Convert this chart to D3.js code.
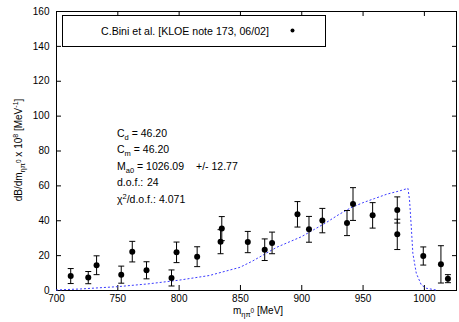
<!DOCTYPE html>
<html>
<head>
<meta charset="utf-8">
<script src="https://cdn.jsdelivr.net/npm/d3@7"></script>
<style>
  body { margin: 0; background: #fff; }
  svg text { font-family: "Liberation Sans", Arial, Helvetica, sans-serif; fill: #000; }
</style>
</head>
<body>
<script>
// measured points (KLOE note 173)
const massPts = [712, 726.3, 733.1, 753.2, 762.2, 773.8, 794.2, 798.3, 815.1, 834.2, 835.2, 856.4, 870.2,
  876.2, 896.9, 906.3, 917.2, 937.3, 942.2, 958.2, 978.3, 978.3, 999.5, 1013.9, 1019.6];
const rateVals = [8.0, 7.1, 14.2, 8.8, 22.0, 11.3, 6.9, 21.6, 19.1, 27.7, 35.2, 27.5, 23.1,
  27.0, 43.4, 34.8, 39.8, 38.4, 49.3, 42.8, 45.9, 31.9, 19.5, 14.7, 6.5];
const rateErrs = [4.3, 3.5, 5.4, 4.9, 5.9, 4.9, 4.6, 5.9, 5.7, 6.9, 6.9, 6.1, 6.2,
  6.2, 7.3, 7.4, 7.0, 7.2, 9.4, 7.3, 7.5, 8.7, 5.2, 10.7, 2.3];

// fit curve
const curveMass = [700, 720, 750, 775, 800, 825, 850, 860, 870, 880, 890, 900, 910, 920, 930, 940,
  950, 960, 970, 980, 987, 988.3, 989.7, 991, 993.8, 997.9, 1002, 1010];
const curveVals = [0, 0.6, 1.9, 3.5, 5.6, 8.3, 13, 16.5, 20.5, 24.5, 27.5, 30.5, 34.5, 38.5, 43, 47,
  50, 52.5, 55, 56.8, 58.3, 51.6, 36.3, 21.0, 9.6, 2.9, 1.0, 0];

const xTicks = [700, 750, 800, 850, 900, 950, 1000];
const yTicks = [0, 20, 40, 60, 80, 100, 120, 140, 160];

const legendLabel = "C.Bini et al. [KLOE note 173, 06/02]";

const W = 459, H = 322;
const m = { left: 56, right: 2, top: 11, bottom: 32 };

const svg = d3.select("body").append("svg")
  .attr("width", W)
  .attr("height", H);

const x = d3.scaleLinear().domain([700, 1027]).range([m.left, W - m.right]);
const y = d3.scaleLinear().domain([0, 160]).range([H - m.bottom, m.top]);

// axes, ticks point inward like gnuplot
svg.append("g")
  .attr("transform", `translate(0,${y(0)})`)
  .call(d3.axisBottom(x).tickValues(xTicks).tickSize(-5).tickPadding(5).tickFormat(d3.format("d")))
  .call(g => g.select(".domain").remove());

svg.append("g")
  .attr("transform", `translate(${x(700)},0)`)
  .call(d3.axisLeft(y).tickValues(yTicks).tickSize(-5).tickPadding(6.5))
  .call(g => g.select(".domain").remove());

svg.append("g")
  .attr("transform", `translate(0,${y(160)})`)
  .call(d3.axisTop(x).tickValues(xTicks).tickSize(-5).tickFormat(""))
  .call(g => g.select(".domain").remove());

svg.append("g")
  .attr("transform", `translate(${x.range()[1]},0)`)
  .call(d3.axisRight(y).tickValues(yTicks).tickSize(-5).tickFormat(""))
  .call(g => g.select(".domain").remove());

svg.selectAll(".tick text").style("font-size", "10px");
svg.selectAll(".tick line").attr("stroke", "#000");

// frame
svg.append("rect")
  .attr("x", x.range()[0] + 0.5)
  .attr("y", y(160) + 0.5)
  .attr("width", x.range()[1] - x.range()[0] - 1)
  .attr("height", y(0) - y(160))
  .attr("fill", "none")
  .attr("stroke", "#000");

// helper: text with sub/superscripts, parts = [text, shift(px), size]
function richText(sel, parts, base) {
  let prev = 0;
  parts.forEach(p => {
    const shift = p[1] || 0;
    sel.append("tspan")
      .attr("dy", shift - prev)
      .style("font-size", (p[2] || base) + "px")
      .text(p[0]);
    prev = shift;
  });
}

// fit curve
const line = d3.line()
  .x((d, i) => x(curveMass[i]))
  .y(d => y(d));

svg.append("path")
  .datum(curveVals)
  .attr("d", line)
  .attr("fill", "none")
  .attr("stroke", "#3a3aff")
  .attr("stroke-width", 1)
  .attr("stroke-dasharray", "2,2");

// error bars
const pts = massPts.map((mv, i) => ({ m: mv, v: rateVals[i], e: rateErrs[i] }));

const eb = svg.append("g").attr("stroke", "#000").attr("stroke-width", 1);
eb.selectAll("line.bar")
  .data(pts)
  .enter()
  .append("line")
  .attr("class", "bar")
  .attr("x1", d => x(d.m)).attr("x2", d => x(d.m))
  .attr("y1", d => y(d.v - d.e)).attr("y2", d => y(d.v + d.e));

["lo", "hi"].forEach(k => {
  eb.selectAll("line.cap" + k)
    .data(pts)
    .enter()
    .append("line")
    .attr("class", "cap" + k)
    .attr("x1", d => x(d.m) - 3).attr("x2", d => x(d.m) + 3)
    .attr("y1", d => y(k == "lo" ? d.v - d.e : d.v + d.e))
    .attr("y2", d => y(k == "lo" ? d.v - d.e : d.v + d.e));
});

svg.append("g")
  .selectAll("circle")
  .data(pts)
  .enter()
  .append("circle")
  .attr("cx", d => x(d.m))
  .attr("cy", d => y(d.v))
  .attr("r", 3)
  .attr("fill", "#000");

// legend
svg.append("rect")
  .attr("x", 62.5).attr("y", 15.5)
  .attr("width", 263).attr("height", 31)
  .attr("fill", "#fff")
  .attr("stroke", "#000");

svg.append("text")
  .attr("x", 185).attr("y", 34.5)
  .attr("text-anchor", "middle")
  .style("font-size", "10.6px")
  .text(legendLabel);

svg.append("circle")
  .attr("cx", 292.5).attr("cy", 30.5)
  .attr("r", 2)
  .attr("fill", "#000");

// fit results
const fs = 10.5;
const ann = svg.append("g").attr("transform", "translate(117,0)");
const rows = [
  [["C"], ["d", 3, 7.5], [" = 46.20", 0]],
  [["C"], ["m", 3, 7.5], [" = 46.20", 0]],
  [["M"], ["a0", 3, 7.5], [" = 1026.09", 0]],
  [["d.o.f.:"]],
  [["χ"], ["2", -4, 7.5], ["/d.o.f.:", 0]]
];
rows.forEach((r, i) => {
  const t = ann.append("text").attr("y", 136.5 + i * 16.6);
  richText(t, r, fs);
});
ann.append("text").attr("x", 79).attr("y", 136.5 + 2 * 16.6).style("font-size", fs + "px").text("+/- 12.77");
ann.append("text").attr("x", 30).attr("y", 136.5 + 3 * 16.6).style("font-size", fs + "px").text("24");
ann.append("text").attr("x", 42).attr("y", 136.5 + 4 * 16.6).style("font-size", fs + "px").text("4.071");

// axis titles
const xt = svg.append("text")
  .attr("x", 258).attr("y", 313.5)
  .attr("text-anchor", "middle");
richText(xt, [["m"], ["ηπ", 3, 7.5], ["0", -1, 6.5], ["  [MeV]", 0]], 10);

const yt = svg.append("text")
  .attr("transform", "translate(22,150) rotate(-90)")
  .attr("text-anchor", "middle");
richText(yt, [["dB/dm"], ["ηπ", 3, 7.5], ["0", -1, 6.5], [" x 10", 0], ["8", -4, 7], [" [MeV", 0], ["-1", -4, 7], ["]", 0]], 10);
</script>
</body>
</html>
